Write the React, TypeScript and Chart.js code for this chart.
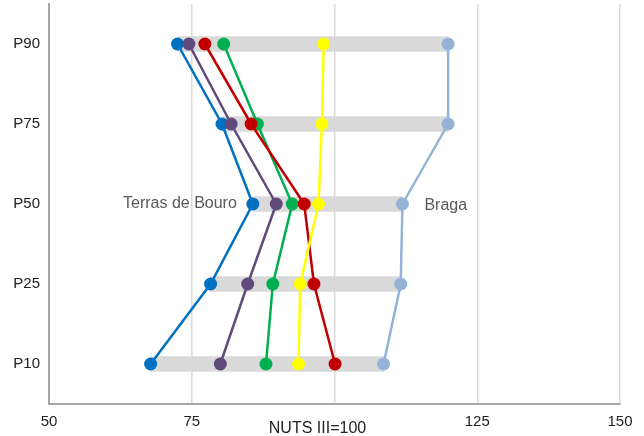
import React, { useEffect, useRef } from 'react';
import { Chart, registerables } from 'chart.js';

Chart.register(...registerables);

const categories = ['P90', 'P75', 'P50', 'P25', 'P10'];
const terrasDeBouro = [72.5, 80.3, 85.7, 78.3, 67.8];
const purpleSeries = [74.5, 81.9, 89.8, 84.8, 80.0];
const greenSeries = [80.6, 86.5, 92.6, 89.2, 88.0];
const redSeries = [77.3, 85.4, 94.7, 96.4, 100.1];
const yellowSeries = [98.1, 97.8, 97.2, 94.0, 93.7];
const braga = [119.9, 119.9, 111.9, 111.6, 108.6];
const xTickValues = [50, 75, 100, 125, 150];
const baseLabel = 'NUTS III=100';

const FONT = '"Liberation Sans", Arial, sans-serif';

const allSeries = [terrasDeBouro, purpleSeries, greenSeries, redSeries, yellowSeries, braga];
const ranges = categories.map((_, i) => {
  const vals = allSeries.map((s) => s[i]);
  return [Math.min(...vals), Math.max(...vals)];
});

const labelPlugin = {
  id: 'customLabels',
  afterDatasetsDraw(chart: any) {
    const ctx = chart.ctx;
    const find = (label: string) => {
      const idx = chart.data.datasets.findIndex((d: any) => d.label === label);
      return chart.getDatasetMeta(idx);
    };
    ctx.save();
    ctx.font = `16px ${FONT}`;
    ctx.fillStyle = '#595959';
    ctx.textBaseline = 'middle';
    const tb = find('Terras de Bouro').data[2];
    ctx.textAlign = 'right';
    ctx.fillText('Terras de Bouro', tb.x - 16, tb.y);
    const br = find('Braga').data[2];
    ctx.textAlign = 'left';
    ctx.fillText('Braga', br.x + 22, br.y + 2);
    const xs = chart.scales.x;
    ctx.fillStyle = '#222222';
    ctx.textAlign = 'center';
    ctx.fillText(baseLabel, xs.getPixelForValue(100) - 17, chart.chartArea.bottom + 25);
    ctx.restore();
  },
};

const lineDs = (label: string, data: number[], color: string, order: number) => ({
  type: 'line' as const,
  label,
  data,
  indexAxis: 'y' as const,
  borderColor: color,
  backgroundColor: color,
  borderWidth: 2.5,
  pointRadius: 6.5,
  pointHoverRadius: 6.5,
  pointBackgroundColor: color,
  pointBorderWidth: 0,
  tension: 0,
  fill: false,
  order,
});

export default function App() {
  const ref = useRef<HTMLCanvasElement>(null);
  useEffect(() => {
    if (!ref.current) return;
    const chart = new Chart(ref.current, {
      type: 'bar',
      data: {
        labels: categories,
        datasets: [
          {
            type: 'bar',
            label: 'range',
            data: ranges as any,
            backgroundColor: '#D9D9D9',
            barThickness: 15,
            borderSkipped: false,
            order: 10,
          } as any,
          lineDs('Terras de Bouro', terrasDeBouro, '#0070C0', 5),
          lineDs('purple', purpleSeries, '#604A7B', 4),
          lineDs('green', greenSeries, '#00B050', 3),
          lineDs('red', redSeries, '#C00000', 2),
          lineDs('yellow', yellowSeries, '#FFFF00', 1),
          lineDs('Braga', braga, '#95B3D7', 0),
        ],
      },
      options: {
        indexAxis: 'y',
        animation: false,
        responsive: true,
        maintainAspectRatio: false,
        layout: { padding: { top: 4, right: 24, left: 0, bottom: 0 }, autoPadding: false },
        plugins: { legend: { display: false }, tooltip: { enabled: false } },
        scales: {
          x: {
            type: 'linear',
            min: 50,
            max: 150,
            afterBuildTicks: (scale: any) => {
              scale.ticks = xTickValues.map((v) => ({ value: v }));
            },
            ticks: {
              callback: (v: any) => (v === 100 ? '' : String(v)),
              font: { family: FONT, size: 15 },
              color: '#222222',
              padding: 9,
              maxRotation: 0,
            },
            grid: { color: '#D9D9D9', lineWidth: 1.5, drawTicks: false },
            border: { color: '#A6A6A6', width: 2 },
            afterFit: (scale: any) => {
              scale.height = 32;
              scale.paddingLeft = 0;
              scale.paddingRight = 0;
            },
          },
          y: {
            type: 'category',
            ticks: {
              font: { family: FONT, size: 15 },
              color: '#222222',
              padding: 9,
            },
            grid: { display: false, drawTicks: false },
            border: { color: '#A6A6A6', width: 2 },
            afterFit: (scale: any) => {
              scale.width = 49;
              scale.paddingTop = 0;
              scale.paddingBottom = 0;
            },
          },
        },
      } as any,
      plugins: [labelPlugin],
    });
    return () => chart.destroy();
  }, []);
  return (
    <div style={{ position: 'absolute', left: 0, top: 0, width: 644, height: 436, background: '#fff' }}>
      <canvas ref={ref} />
    </div>
  );
}
